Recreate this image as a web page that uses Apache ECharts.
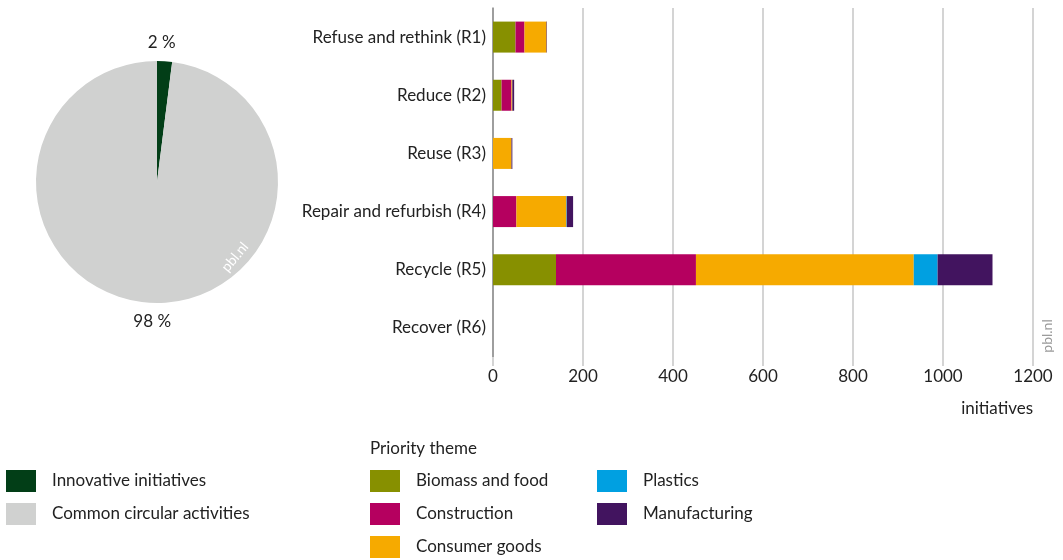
<!DOCTYPE html>
<html><head><meta charset="utf-8">
<script src="https://cdn.jsdelivr.net/npm/echarts@6/dist/echarts.min.js"></script>
<style>html,body{margin:0;padding:0;background:#fff}#c{width:1063px;height:560px}</style>
</head><body><div id="c"></div>
<script>
const categories = ['Refuse and rethink (R1)', 'Reduce (R2)', 'Reuse (R3)', 'Repair and refurbish (R4)', 'Recycle (R5)', 'Recover (R6)'];
const biomass = [50, 19, 0, 0, 140, 0];
const construction = [20, 22, 0, 52, 311, 0];
const consumer = [49, 2, 41, 111, 484, 0];
const plastics = [0, 0, 0, 1, 53, 0];
const manufacturing = [1, 4, 2, 14, 122, 0];
const pieNames = ['Innovative initiatives', 'Common circular activities'];
const pieValues = [2, 98];
const xTicks = [0, 200, 400, 600, 800, 1000, 1200];

const FONT = 'Lato';
const FS = 17;
const TXT = '#222';
const pieCenter = [157, 182];
const pieRadius = 121;
const pieLabelR = 140;

const barSeries = [
  ['Biomass and food', biomass, '#879000'],
  ['Construction', construction, '#b5005f'],
  ['Consumer goods', consumer, '#f6aa00'],
  ['Plastics', plastics, '#00a0e1'],
  ['Manufacturing', manufacturing, '#42145f']
].map(([name, data, color]) => ({
  name, type: 'bar', stack: 'total', data, barWidth: 31,
  itemStyle: { color }, emphasis: { disabled: true }
}));

const pieTotal = pieValues.reduce((a, b) => a + b, 0);
function pieLabelLayout(p) {
  let cum = 0;
  for (let i = 0; i < p.dataIndex; i++) cum += pieValues[i];
  const mid = (90 - (cum + pieValues[p.dataIndex] / 2) / pieTotal * 360) * Math.PI / 180;
  return {
    x: pieCenter[0] + pieLabelR * Math.cos(mid) - 4 * Math.sign(Math.cos(mid)),
    y: pieCenter[1] - pieLabelR * Math.sin(mid),
    align: 'center', verticalAlign: 'middle'
  };
}

const legendCommon = {
  orient: 'vertical', icon: 'rect', itemWidth: 30, itemHeight: 22, itemGap: 11,
  padding: 0, selectedMode: false,
  textStyle: { fontFamily: FONT, fontSize: FS, color: TXT, padding: [0, 0, 0, 11] }
};

const option = {
  animation: false,
  textStyle: { fontFamily: FONT },
  title: { text: 'Priority theme', left: 370, top: 440, padding: 0,
    textStyle: { fontFamily: FONT, fontSize: FS, fontWeight: 'normal', color: TXT } },
  legend: [
    Object.assign({ left: 6, top: 470, data: pieNames }, legendCommon),
    Object.assign({ left: 370, top: 470, data: ['Biomass and food', 'Construction', 'Consumer goods'] }, legendCommon),
    Object.assign({ left: 597, top: 470, data: ['Plastics', 'Manufacturing'] }, legendCommon)
  ],
  grid: { left: 493, right: 30, top: 8, height: 349, containLabel: false },
  xAxis: {
    type: 'value', min: 0, max: 1200, interval: 200,
    name: 'initiatives', nameLocation: 'end', nameGap: 0,
    nameTextStyle: { fontFamily: FONT, fontSize: FS, color: TXT, align: 'right', verticalAlign: 'top', padding: [43, 0, 0, 0] },
    axisLine: { show: false },
    axisTick: { show: true, length: 9, lineStyle: { color: '#d4d4d4', width: 2 } },
    splitLine: { show: true, lineStyle: { color: '#d4d4d4', width: 2 } },
    axisLabel: { fontFamily: FONT, fontSize: FS, color: TXT, margin: 11,
      formatter: v => xTicks.includes(v) ? String(v) : '' }
  },
  yAxis: {
    type: 'category', data: categories, inverse: true,
    axisLine: { show: true, lineStyle: { color: '#8c8c8c', width: 1.5 } },
    axisTick: { show: false },
    axisLabel: { fontFamily: FONT, fontSize: FS, color: TXT, margin: 7 }
  },
  series: [
    {
      type: 'pie', center: pieCenter, radius: pieRadius, startAngle: 90, clockwise: true,
      data: pieNames.map((n, i) => ({ name: n, value: pieValues[i] })),
      color: ['#023e17', '#d0d1d0'],
      label: { show: true, position: 'outside', formatter: '{c} %', fontFamily: FONT, fontSize: FS, color: TXT },
      labelLine: { show: false },
      labelLayout: pieLabelLayout,
      emphasis: { disabled: true }
    }
  ].concat(barSeries),
  graphic: [
    { type: 'text', x: 235, y: 257, rotation: 50 * Math.PI / 180, z: 100, zlevel: 1,
      style: { text: 'pbl.nl', fill: '#ffffff', font: '14px ' + FONT, align: 'center', verticalAlign: 'middle' } },
    { type: 'text', x: 1047, y: 336, rotation: Math.PI / 2, z: 100,
      style: { text: 'pbl.nl', fill: '#9a9a9a', font: '14px ' + FONT, align: 'center', verticalAlign: 'middle' } }
  ]
};

const chart = echarts.init(document.getElementById('c'), null, { renderer: 'canvas' });
chart.setOption(option);
</script>
</body></html>
